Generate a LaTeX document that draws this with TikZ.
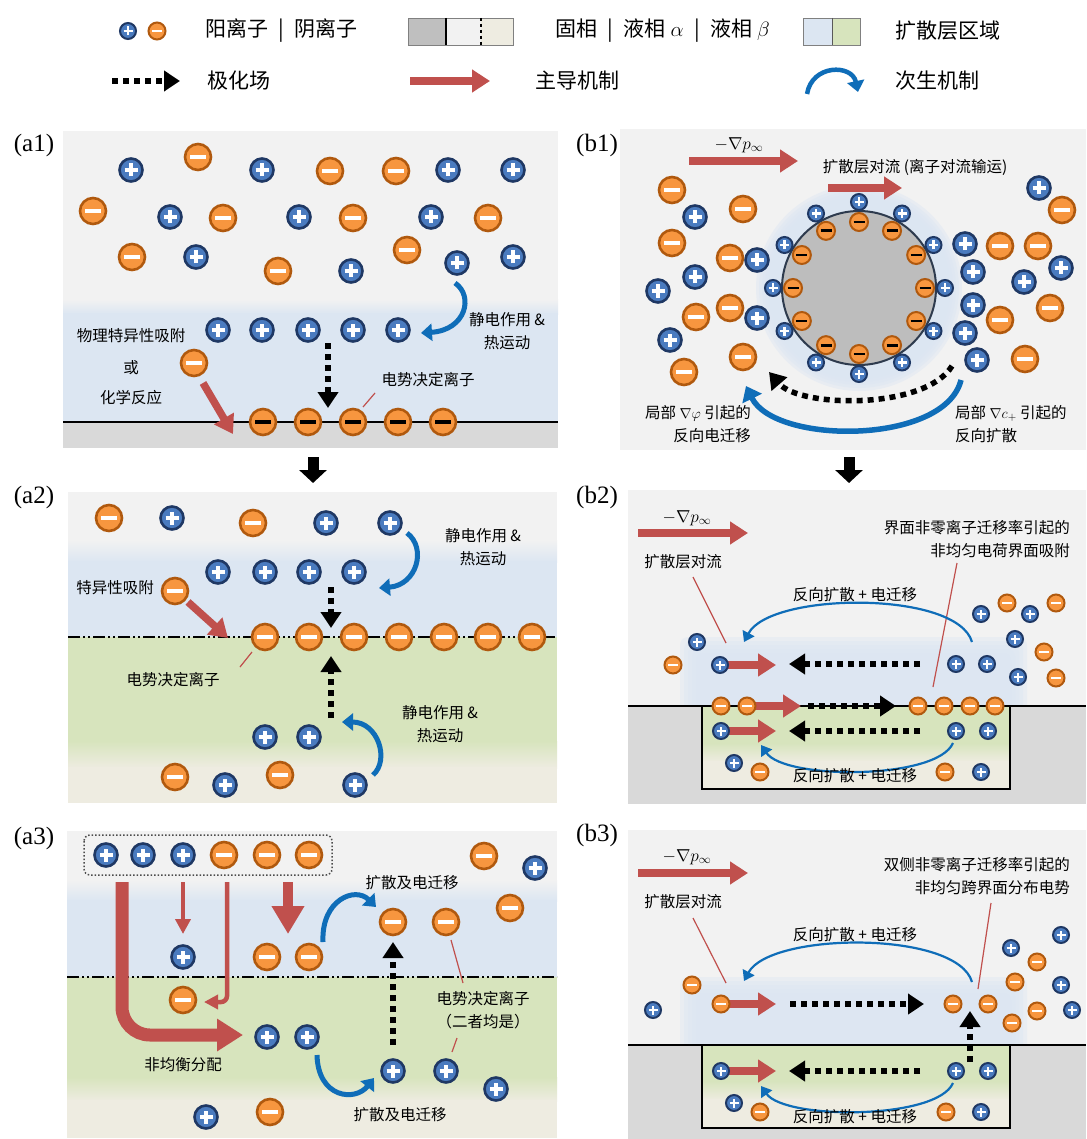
\documentclass[tikz,border=0pt]{standalone}
\usepackage{fontspec}
\setmainfont{Liberation Serif}
\newfontfamily\cjk{Noto Sans CJK SC}
\usetikzlibrary{arrows.meta}

\definecolor{panelbg}{HTML}{F2F2F2}
\definecolor{diffblue}{HTML}{DCE6F2}
\definecolor{diffgreen}{HTML}{D7E4BD}
\definecolor{liqbeige}{HTML}{EEECE1}
\definecolor{solidgray}{HTML}{D9D9D9}
\definecolor{legsolid}{HTML}{BFBFBF}
\definecolor{catfill}{HTML}{4A7BBF}
\definecolor{catedge}{HTML}{1F3864}
\definecolor{anfill}{HTML}{F7963F}
\definecolor{anedge}{HTML}{B0590E}
\definecolor{domred}{HTML}{C0504D}
\definecolor{secblue}{HTML}{0F6DB8}
\definecolor{coregray}{HTML}{BDBDBD}
\definecolor{coreedge}{HTML}{2E3B4E}

\tikzset{%
    >={Triangle[length=16pt,width=20pt]},
    % ions: big ones in the a-panels and b1, small ones in b1 ring and b2/b3
    cat/.style={circle, inner sep=0pt, minimum size=23pt, line width=2.6pt, draw=catedge, fill=catfill,
      path picture={\draw[white, line width=3.4pt]
        ([xshift=-6.5pt]path picture bounding box.center) -- ([xshift=6.5pt]path picture bounding box.center)
        ([yshift=-6.5pt]path picture bounding box.center) -- ([yshift=6.5pt]path picture bounding box.center);}},
    ani/.style={circle, inner sep=0pt, minimum size=26pt, line width=2.6pt, draw=anedge, fill=anfill,
      path picture={\draw[white, line width=3.6pt]
        ([xshift=-8pt]path picture bounding box.center) -- ([xshift=8pt]path picture bounding box.center);}},
    anik/.style={circle, inner sep=0pt, minimum size=26pt, line width=2.6pt, draw=anedge, fill=anfill,
      path picture={\draw[black, line width=3.6pt]
        ([xshift=-8pt]path picture bounding box.center) -- ([xshift=8pt]path picture bounding box.center);}},
    scat/.style={circle, inner sep=0pt, minimum size=16pt, line width=2pt, draw=catedge, fill=catfill,
      path picture={\draw[white, line width=2.6pt]
        ([xshift=-4.5pt]path picture bounding box.center) -- ([xshift=4.5pt]path picture bounding box.center)
        ([yshift=-4.5pt]path picture bounding box.center) -- ([yshift=4.5pt]path picture bounding box.center);}},
    sani/.style={circle, inner sep=0pt, minimum size=17pt, line width=2pt, draw=anedge, fill=anfill,
      path picture={\draw[white, line width=2.6pt]
        ([xshift=-5pt]path picture bounding box.center) -- ([xshift=5pt]path picture bounding box.center);}},
    sanik/.style={circle, inner sep=0pt, minimum size=18pt, line width=2pt, draw=anedge, fill=anfill,
      path picture={\draw[black, line width=2.8pt]
        ([xshift=-5.5pt]path picture bounding box.center) -- ([xshift=5.5pt]path picture bounding box.center);}},
    % arrows
    polar/.style={line width=5.5pt, dash pattern=on 6pt off 5pt, ->},
    domarrow/.style={draw=domred, line width=7.5pt, -{Triangle[length=18pt,width=22pt]}},
    thinred/.style={draw=domred, line width=4.5pt, -{Triangle[length=15pt,width=15pt]}},
    secarrow/.style={draw=secblue, line width=4.5pt, -{Triangle[length=11pt,width=17pt]}},
    secthin/.style={draw=secblue, line width=2.2pt, -{Triangle[length=10pt,width=13pt]}},
    stepdown/.style={line width=11pt, -{Triangle[length=13pt,width=27pt]}},
    leader/.style={draw=domred, line width=1.2pt},
    dashdot/.style={line width=2.2pt, dash pattern=on 12pt off 3pt on 2pt off 3pt on 2pt off 3pt},
    % text
    lbl/.style={font=\cjk\fontsize{15.5}{23}\selectfont, inner sep=1pt},
    legtext/.style={font=\cjk\fontsize{21}{25}\selectfont, anchor=west, inner sep=0pt},
    tag/.style={font=\fontsize{25}{28}\selectfont, inner sep=0pt},
    grad/.style={font=\fontsize{17}{20}\selectfont, inner sep=0pt}
}
\newcommand{\sepbar}{\enspace|\enspace}

\begin{document}
\begin{tikzpicture}[x=1pt, y=-1pt]
  \fill[white] (0,0) rectangle (1086,1139);
  \useasboundingbox (0,0) rectangle (1086,1139);

  % legend
  \node[scat] (legc) at (128,31) {};
  \node[sani] (lega) at (157,31) {};
  \node[legtext] (legions) at (205,31) {阳离子\sepbar 阴离子};
  \fill[legsolid] (408,18) rectangle (446,45);
  \fill[panelbg] (446,18) rectangle (481,45);
  \fill[liqbeige] (481,18) rectangle (513,45);
  \draw[gray] (408,18) rectangle (513,45);
  \draw[line width=1.3pt] (446,18) -- (446,45);
  \draw[line width=1.5pt, dashed] (481,18) -- (481,45);
  \node[legtext] (legphase) at (555,31) {固相\sepbar 液相 $\alpha$\sepbar 液相 $\beta$};
  \fill[diffblue] (803,18) rectangle (832,45);
  \fill[diffgreen] (832,18) rectangle (860,45);
  \draw[gray] (803,18) rectangle (860,45);
  \draw[gray!70!black] (832,18) -- (832,45);
  \node[legtext] (legdiff) at (895,31) {扩散层区域};
  \draw[polar] (112,81) -- (180,81);
  \node[legtext] (legpolar) at (207,81) {极化场};
  \draw[domarrow] (410,81) -- (490,81);
  \node[legtext] (legdom) at (535,81) {主导机制};
  \draw[secarrow] (807,94) .. controls (812,64) and (852,64) .. (858,92);
  \node[legtext] (legsec) at (895,81) {次生机制};

  % ---------------- (a1) ----------------
  \node[tag] (taga1) at (34,145) {(a1)};
  \fill[panelbg] (63,131) rectangle (558,300);
  \shade[top color=panelbg, bottom color=diffblue] (63,299) rectangle (558,314);
  \fill[diffblue] (63,313) rectangle (558,422);
  \fill[solidgray] (63,422) rectangle (558,448);
  \draw[line width=2pt] (63,422) -- (558,422);

  \draw[domarrow] (203,383) -- (233,434);
  \draw[polar] (328,343) -- (328,408);
  \draw[secarrow, line width=5pt] (455,283) .. controls (474,296) and (466,330) .. (421,333);
  \draw[leader] (375,393) -- (363,407);

  \foreach \x/\y [count=\i] in {131/170,262/170,448/170,513/170,170/217,299/217,431/217,196/257,
      351/271,457/263,513/257,218/330,262/330,308/330,353/330,398/330}
    \node[cat] (a1c\i) at (\x,\y) {};
  \foreach \x/\y [count=\i] in {198/157,330/171,396/171,93/211,223/218,353/218,488/218,132/257,
      278/271,407/250,194/363}
    \node[ani] (a1a\i) at (\x,\y) {};
  \foreach \x [count=\i] in {263,308,353,398,443}
    \node[anik] (a1s\i) at (\x,422) {};

  \node[lbl] (a1phys) at (131,336) {物理特异性吸附};
  \node[lbl] (a1or) at (131,368) {或};
  \node[lbl] (a1chem) at (131,398) {化学反应};
  \node[lbl, align=center] (a1elec) at (507,331) {静电作用 \&\\热运动};
  \node[lbl] (a1pdi) at (428,380) {电势决定离子};

  \draw[stepdown] (313,457) -- (313,483);

  % ---------------- (a2) ----------------
  \node[tag] (taga2) at (34,497) {(a2)};
  \fill[panelbg] (68,492) rectangle (557,541);
  \shade[top color=panelbg, bottom color=diffblue] (68,540) rectangle (557,562);
  \fill[diffblue] (68,561) rectangle (557,637);
  \fill[diffgreen] (68,637) rectangle (557,742);
  \shade[top color=diffgreen, bottom color=liqbeige] (68,741) rectangle (557,768);
  \fill[liqbeige] (68,767) rectangle (557,803);
  \draw[dashdot] (68,637) -- (557,637);

  \draw[domarrow] (188,602) -- (228,638);
  \draw[polar] (331,587) -- (331,628);
  \draw[polar] (331,718) -- (331,656);
  \draw[secarrow, line width=5pt] (407,533) .. controls (427,548) and (417,585) .. (379,588);
  \draw[secarrow, line width=5pt] (373,775) .. controls (390,760) and (378,722) .. (342,722);
  \draw[leader] (252,652) -- (240,667);

  \foreach \x/\y [count=\i] in {172/518,326/523,390/523,218/572,265/572,309/572,354/572,
      265/737,309/737,225/785,355/785}
    \node[cat] (a2c\i) at (\x,\y) {};
  \foreach \x/\y [count=\i] in {109/518,253/523,175/591,175/777,280/775}
    \node[ani] (a2a\i) at (\x,\y) {};
  \foreach \x [count=\i] in {265,309,354,399,444,488,532}
    \node[ani] (a2s\i) at (\x,637) {};

  \node[lbl, align=center] (a2elec) at (483,547) {静电作用 \&\\热运动};
  \node[lbl] (a2spec) at (115,588) {特异性吸附};
  \node[lbl] (a2pdi) at (173,680) {电势决定离子};
  \node[lbl, align=center] (a2elecb) at (440,724) {静电作用 \&\\热运动};

  % ---------------- (a3) ----------------
  \node[tag] (taga3) at (34,838) {(a3)};
  \fill[panelbg] (67,831) rectangle (557,881);
  \shade[top color=panelbg, bottom color=diffblue] (67,880) rectangle (557,901);
  \fill[diffblue] (67,900) rectangle (557,977);
  \fill[diffgreen] (67,977) rectangle (557,1078);
  \shade[top color=diffgreen, bottom color=liqbeige] (67,1077) rectangle (557,1101);
  \fill[liqbeige] (67,1100) rectangle (557,1138);
  \draw[dashdot] (67,977) -- (557,977);
  \draw[gray!60!black, line width=1.5pt, dotted, rounded corners=6pt] (84,835) rectangle (332,875);

  \draw[draw=domred, line width=13pt, rounded corners=28pt, -{Triangle[length=26pt,width=31pt]}]
    (122,882) -- (122,1035) -- (243,1035);
  \draw[thinred] (183,882) -- (183,934);
  \draw[draw=domred, line width=4.5pt, rounded corners=6pt, -{Triangle[length=14pt,width=14pt]}]
    (227,882) -- (227,1002) -- (204,1002);
  \draw[draw=domred, line width=10pt, -{Triangle[length=28pt,width=31pt]}] (288,882) -- (288,934);
  \draw[polar] (393,1045) -- (393,942);
  \draw[secarrow, line width=5pt] (323,942) .. controls (321,900) and (355,886) .. (376,907);
  \draw[secarrow, line width=5pt] (317,1055) .. controls (318,1098) and (355,1102) .. (374,1078);
  \draw[leader] (451,940) -- (463,983);
  \draw[leader] (457,1038) -- (452,1052);

  \foreach \x/\y [count=\i] in {106/855,143/855,183/855,535/868,183/957,267/1037,307/1037,
      393/1071,446/1071,496/1089,206/1117}
    \node[cat] (a3c\i) at (\x,\y) {};
  \foreach \x/\y [count=\i] in {224/855,267/855,309/855,484/856,510/908,393/922,446/922,
      267/957,309/957,183/1000,270/1112}
    \node[ani] (a3a\i) at (\x,\y) {};

  \node[lbl] (a3mig) at (412,883) {扩散及电迁移};
  \node[lbl] (a3neq) at (183,1065) {非均衡分配};
  \node[lbl, align=center] (a3pdi) at (483,1010) {电势决定离子\\（二者均是）};
  \node[lbl] (a3migb) at (400,1115) {扩散及电迁移};

  % ---------------- (b1) ----------------
  \node[tag] (tagb1) at (597,145) {(b1)};
  \fill[panelbg] (620,129) rectangle (1086,450);
  \foreach \r in {103,100,97,94,91}
    \fill[diffblue, opacity=0.45] (859,288) circle[radius=\r pt];
  \draw[draw=coreedge, fill=coregray, line width=2pt] (859,288) circle[radius=77pt];

  \draw[domarrow] (689,161) -- (798,161);
  \draw[domarrow] (828,188) -- (902,188);
  \draw[secarrow, line width=5.5pt, -{Triangle[length=14pt,width=21pt]}]
    (961,380) .. controls (945,445) and (775,445) .. (746,386);
  \draw[polar] (952,366) .. controls (925,410) and (800,408) .. (769,372);

  \foreach \a [count=\i] in {0,30,...,330} {
    \node[scat] (b1rc\i) at ({859+86*cos(\a)},{288-86*sin(\a)}) {};
    \node[sanik] (b1ra\i) at ({859+66*cos(\a)},{288-66*sin(\a)}) {};
  }
  \foreach \x/\y [count=\i] in {695/217,757/260,695/277,658/291,757/318,670/340,
      1039/188,965/244,973/272,1061/268,1024/282,973/305,965/333,977/360}
    \node[cat] (b1c\i) at (\x,\y) {};
  \foreach \x/\y [count=\i] in {672/190,743/209,672/243,730/258,696/317,730/308,743/357,684/372,
      1062/210,1000/246,1038/246,1000/320,1050/308,1025/359}
    \node[ani] (b1a\i) at (\x,\y) {};

  \node[grad] (b1grad) at (739,145) {$-\nabla p_\infty$};
  \node[lbl] (b1conv) at (915,167) {扩散层对流 (离子对流输运)};
  \node[lbl, align=right, anchor=east] (b1phi) at (752,424) {局部 $\nabla\varphi$ 引起的\\反向电迁移};
  \node[lbl, align=left, anchor=west] (b1cp) at (954,424) {局部 $\nabla c_+$ 引起的\\反向扩散};

  \draw[stepdown] (849,457) -- (849,483);

  % ---------------- (b2) ----------------
  \node[tag] (tagb2) at (597,497) {(b2)};
  \fill[panelbg] (628,490) rectangle (1086,706);
  \foreach \d in {0,4,8,12,16}
    \fill[diffblue, opacity=0.4, rounded corners=8pt] ({680+\d},{637+\d}) rectangle ({1027-\d},720);
  \fill[solidgray] (628,706) rectangle (1086,804);
  \fill[diffgreen] (702,706) rectangle (1010,744);
  \shade[top color=diffgreen, bottom color=liqbeige] (702,743) rectangle (1010,762);
  \fill[liqbeige] (702,761) rectangle (1010,789);
  \draw[line width=2pt] (628,706) -- (1086,706);
  \draw[line width=2pt] (702,706) |- (1010,789) -- (1010,706);

  \draw[domarrow] (638,533) -- (748,533);
  \draw[leader] (693,577) -- (726,643);
  \draw[leader] (957,563) -- (933,687);
  \draw[secthin] (972,642) .. controls (957,590) and (770,592) .. (744,642);
  \draw[secthin] (953,743) .. controls (937,780) and (785,780) .. (761,745);
  \draw[domarrow] (720,665) -- (776,665);
  \draw[polar] (920,664) -- (789,664);
  \draw[domarrow] (747,706) -- (801,706);
  \draw[polar] (808,706) -- (896,706);
  \draw[domarrow] (721,731) -- (776,731);
  \draw[polar] (920,731) -- (789,731);

  \foreach \x/\y [count=\i] in {697/642,720/665,956/664,987/664,981/614,1030/614,1015/639,1018/677,
      721/731,956/731,988/731,734/763,981/772}
    \node[scat] (b2c\i) at (\x,\y) {};
  \foreach \x/\y [count=\i] in {673/665,1007/603,1056/603,1044/652,1056/678,721/706,747/706,
      918/706,944/706,970/706,995/706,760/772,945/772}
    \node[sani] (b2a\i) at (\x,\y) {};

  \node[grad] (b2grad) at (687,518) {$-\nabla p_\infty$};
  \node[lbl] (b2conv) at (683,562) {扩散层对流};
  \node[lbl, align=right, anchor=east] (b2ads) at (1071,539) {界面非零离子迁移率引起的\\非均匀电荷界面吸附};
  \node[lbl] (b2back) at (855,595) {反向扩散 + 电迁移};
  \node[lbl] (b2backb) at (855,776) {反向扩散 + 电迁移};

  % ---------------- (b3) ----------------
  \node[tag] (tagb3) at (597,835) {(b3)};
  \fill[panelbg] (628,830) rectangle (1086,1045);
  \foreach \d in {0,4,8,12,16}
    \fill[diffblue, opacity=0.4, rounded corners=8pt] ({680+\d},{977+\d}) rectangle ({1027-\d},1060);
  \fill[solidgray] (628,1045) rectangle (1086,1139);
  \fill[diffgreen] (702,1045) rectangle (1010,1082);
  \shade[top color=diffgreen, bottom color=liqbeige] (702,1081) rectangle (1010,1100);
  \fill[liqbeige] (702,1099) rectangle (1010,1128);
  \draw[line width=2pt] (628,1045) -- (1086,1045);
  \draw[line width=2pt] (702,1045) |- (1010,1128) -- (1010,1045);

  \draw[domarrow] (638,873) -- (748,873);
  \draw[leader] (693,918) -- (726,983);
  \draw[leader] (991,903) -- (978,989);
  \draw[secthin] (972,982) .. controls (957,930) and (770,932) .. (744,981);
  \draw[secthin] (953,1083) .. controls (937,1120) and (785,1120) .. (761,1086);
  \draw[domarrow] (721,1004) -- (776,1004);
  \draw[polar] (790,1004) -- (924,1004);
  \draw[polar] (970,1062) -- (970,1011);
  \draw[domarrow] (721,1071) -- (776,1071);
  \draw[polar] (920,1071) -- (789,1071);

  \foreach \x/\y [count=\i] in {653/1010,1011/948,1061/935,1061/985,1072/1010,
      721/1071,956/1071,988/1071,734/1103,981/1112}
    \node[scat] (b3c\i) at (\x,\y) {};
  \foreach \x/\y [count=\i] in {692/985,721/1004,953/1004,988/1004,1037/962,1015/982,
      1037/1011,1012/1023,760/1112,946/1112}
    \node[sani] (b3a\i) at (\x,\y) {};

  \node[grad] (b3grad) at (687,857) {$-\nabla p_\infty$};
  \node[lbl] (b3conv) at (683,902) {扩散层对流};
  \node[lbl, align=right, anchor=east] (b3pot) at (1071,876) {双侧非零离子迁移率引起的\\非均匀跨界面分布电势};
  \node[lbl] (b3back) at (855,935) {反向扩散 + 电迁移};
  \node[lbl] (b3backb) at (855,1117) {反向扩散 + 电迁移};
\end{tikzpicture}
\end{document}
